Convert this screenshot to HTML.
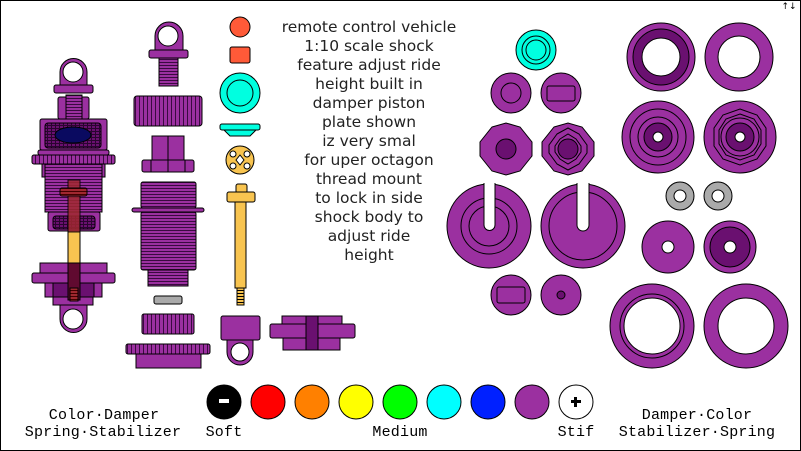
<!DOCTYPE html>
<html><head><meta charset="utf-8"><style>
html,body{margin:0;padding:0;background:#fff}
svg{display:block}
.t{font-family:"DejaVu Sans","Liberation Sans",sans-serif;font-size:15.5px;fill:#222}
.m{font-family:"Liberation Mono","DejaVu Sans Mono",monospace;font-size:15px;letter-spacing:0.2px;fill:#000}
</style></head><body>
<svg width="801" height="451" viewBox="0 0 801 451" xmlns="http://www.w3.org/2000/svg">
<defs>
<pattern id="h" width="4" height="3" patternUnits="userSpaceOnUse"><rect width="4" height="3" fill="#9b30a0"/><rect y="2" width="4" height="1" fill="#3a0a40"/></pattern>
<pattern id="v" width="4" height="4" patternUnits="userSpaceOnUse"><rect width="4" height="4" fill="#9b30a0"/><rect x="3" width="1" height="4" fill="#3a0a40"/></pattern>
<pattern id="hv" width="4" height="3" patternUnits="userSpaceOnUse"><rect width="4" height="3" fill="#6a1070"/><rect y="2" width="4" height="1" fill="#2a0530"/><rect x="3" width="1" height="3" fill="#2a0530"/></pattern>
<pattern id="hy" width="4" height="3" patternUnits="userSpaceOnUse"><rect width="4" height="3" fill="#f8c450"/><rect y="2" width="4" height="1" fill="#000"/></pattern>
<pattern id="hr" width="4" height="3" patternUnits="userSpaceOnUse"><rect width="4" height="3" fill="#a02830"/><rect y="2" width="4" height="1" fill="#400"/></pattern>
</defs>
<rect x="0.5" y="0.5" width="800" height="450" fill="#fff" stroke="#000"/>
<text x="789" y="9" font-size="9" font-family="DejaVu Sans" text-anchor="middle">↑↓</text>
<g stroke="#000" stroke-width="1">
<path d="M60,85 V72 A13,13 0 0 1 87,72 V85 Z" fill="#9b30a0"/>
<circle cx="73" cy="72" r="10" fill="#fff"/>
<rect x="54" y="85" width="39" height="8" rx="2" fill="#9b30a0"/>
<rect x="58" y="97" width="31" height="22" rx="2" fill="#9b30a0"/>
<rect x="66" y="95" width="16" height="24" fill="url(#h)"/>
<rect x="40" y="119" width="67" height="31" rx="2" fill="#9b30a0"/>
<rect x="45" y="123" width="56" height="25" rx="3" fill="url(#hv)"/>
<ellipse cx="73" cy="135" rx="18" ry="8" fill="#0a0a60"/>
<rect x="38" y="150" width="71" height="5" rx="2" fill="#9b30a0"/>
<rect x="32" y="155" width="83" height="9" rx="2" fill="url(#v)"/>
<rect x="42" y="164" width="63" height="13" fill="#9b30a0"/>
<rect x="45" y="164" width="57" height="48" fill="url(#h)"/>
<rect x="48" y="212" width="52" height="19" rx="2" fill="#9b30a0"/>
<rect x="53" y="216" width="42" height="13" rx="3" fill="url(#hv)"/>
<rect x="68" y="231" width="12" height="34" fill="#f8c450"/>
<rect x="40" y="263" width="67" height="10" fill="#9b30a0"/>
<rect x="32" y="273" width="83" height="10" rx="2" fill="#9b30a0"/>
<rect x="45" y="283" width="57" height="14" fill="#9b30a0"/>
<rect x="53" y="283" width="41" height="14" fill="#6a1070"/>
<rect x="53" y="297" width="40" height="8" fill="#9b30a0"/>
<path d="M60,305 H87 V319 A13,13 0 0 1 60,319 Z" fill="#9b30a0"/>
<circle cx="73" cy="319" r="10" fill="#fff"/>
<rect x="68" y="180" width="12" height="52" fill="#a02830" opacity="0.85"/>
<rect x="60" y="188" width="27" height="8" rx="2" fill="url(#hr)"/>
<rect x="68" y="263" width="12" height="37" fill="#600a30"/>
<rect x="70" y="288" width="8" height="13" fill="url(#hr)"/>
<path d="M155,50 V36 A13,13 0 0 1 183,36 V50 Z" fill="#9b30a0"/>
<circle cx="168" cy="36" r="10" fill="#fff"/>
<rect x="149" y="50" width="39" height="8" rx="2" fill="#9b30a0"/>
<rect x="159" y="58" width="19" height="28" fill="url(#h)"/>
<rect x="134" y="96" width="68" height="30" rx="3" fill="url(#v)"/>
<rect x="152" y="136" width="32" height="24" fill="#9b30a0"/>
<line x1="168" y1="136" x2="168" y2="160"/>
<rect x="142" y="160" width="52" height="12" rx="2" fill="#9b30a0"/>
<line x1="151" y1="160" x2="151" y2="172"/><line x1="168" y1="160" x2="168" y2="172"/><line x1="185" y1="160" x2="185" y2="172"/>
<rect x="141" y="182" width="55" height="26" rx="2" fill="url(#h)"/>
<rect x="132" y="208" width="72" height="4" rx="2" fill="#9b30a0"/>
<rect x="141" y="212" width="55" height="58" rx="2" fill="url(#h)"/>
<rect x="148" y="270" width="40" height="16" fill="url(#h)"/>
<rect x="154" y="296" width="28" height="8" rx="2" fill="#aaa"/>
<rect x="142" y="314" width="52" height="20" rx="2" fill="url(#v)"/>
<rect x="126" y="344" width="84" height="10" rx="2" fill="url(#v)"/>
<rect x="136" y="354" width="65" height="14" fill="#9b30a0"/>
<circle cx="240" cy="27" r="10" fill="#ff5a38"/>
<rect x="230" y="47" width="20" height="16" rx="2" fill="#ff5a38"/>
<circle cx="240" cy="93" r="20" fill="#00ffe0"/>
<circle cx="240" cy="93" r="13" fill="#00ffe0"/>
<rect x="220" y="124" width="40" height="6" rx="2" fill="#00ffe0"/>
<path d="M224,130 H256 L250,136 H230 Z" fill="#00ffe0"/>
<circle cx="240" cy="160" r="14" fill="#f8c450"/>
<circle cx="233" cy="154" r="3" fill="#fff"/><circle cx="247" cy="154" r="3" fill="#fff"/>
<circle cx="233" cy="166" r="3" fill="#fff"/><circle cx="247" cy="166" r="3" fill="#fff"/>
<path d="M240,155 L244,160 L240,165 L236,160 Z" fill="#fff"/>
<rect x="236" y="184" width="11" height="9" rx="2" fill="#f8c450"/>
<rect x="227" y="192" width="28" height="10" rx="2" fill="#f8c450"/>
<rect x="235" y="202" width="11" height="86" fill="#f8c450"/>
<rect x="237" y="288" width="7" height="17" fill="url(#hy)"/>
<rect x="221" y="316" width="39" height="24" rx="2" fill="#9b30a0"/>
<path d="M227,340 H253 V352 A13,13 0 0 1 227,352 Z" fill="#9b30a0"/>
<circle cx="240" cy="352" r="9" fill="#fff"/>
<rect x="282" y="316" width="60" height="8" fill="#9b30a0"/>
<rect x="270" y="324" width="85" height="14" rx="2" fill="#9b30a0"/>
<rect x="283" y="338" width="57" height="12" fill="#9b30a0"/>
<rect x="306" y="316" width="12" height="34" fill="#6a1070"/>
<circle cx="536" cy="50" r="20" fill="#00ffe0"/><circle cx="536" cy="50" r="14" fill="#00ffe0"/><circle cx="536" cy="50" r="10" fill="#00ffe0"/>
<circle cx="511" cy="93" r="20" fill="#9b30a0"/><circle cx="511" cy="93" r="10" fill="#9b30a0"/>
<circle cx="561" cy="93" r="20" fill="#9b30a0"/><rect x="547" y="86" width="28" height="15" rx="2" fill="#9b30a0"/>
<polygon points="492,127 506,123 520,127 532,142 532,156 520,171 506,175 492,171 480,156 480,142" fill="#9b30a0"/>
<circle cx="506" cy="149" r="10" fill="#6a1070"/>
<polygon points="554,127 568,123 582,127 594,142 594,156 582,171 568,175 554,171 542,156 542,142" fill="#9b30a0"/>
<polygon points="557,134 568,128 579,134 587,145 587,153 579,164 568,170 557,164 549,153 549,145" fill="#9b30a0"/>
<polygon points="560,139 568,134 576,139 581,146 581,152 576,159 568,164 560,159 555,152 555,146" fill="#9b30a0"/>
<circle cx="568" cy="149" r="10" fill="#6a1070"/>
<circle cx="489" cy="226" r="42" fill="#9b30a0"/><circle cx="489" cy="226" r="28" fill="#9b30a0"/><circle cx="489" cy="226" r="20" fill="#9b30a0"/>
<path d="M484,183 V225 A5.5,5.5 0 0 0 495,225 V183" fill="#fff"/>
<circle cx="583" cy="226" r="42" fill="#9b30a0"/><circle cx="583" cy="226" r="34" fill="#9b30a0"/>
<path d="M577,183 V225 A5.5,5.5 0 0 0 589,225 V183" fill="#fff"/>
<circle cx="511" cy="295" r="20" fill="#9b30a0"/><rect x="497" y="287" width="28" height="16" rx="2" fill="#9b30a0"/>
<circle cx="561" cy="295" r="20" fill="#9b30a0"/><circle cx="561" cy="295" r="4" fill="#6a1070"/>
<circle cx="661" cy="57" r="34" fill="#9b30a0"/><circle cx="661" cy="57" r="28" fill="#6a1070"/><circle cx="661" cy="57" r="19" fill="#fff"/>
<circle cx="739" cy="57" r="34" fill="#9b30a0"/><circle cx="739" cy="57" r="21" fill="#fff"/>
<circle cx="658" cy="137" r="36" fill="#9b30a0"/><circle cx="658" cy="137" r="28" fill="#9b30a0"/><circle cx="658" cy="137" r="20" fill="#9b30a0"/><circle cx="658" cy="137" r="14" fill="#6a1070"/><circle cx="658" cy="137" r="5" fill="#fff"/>
<circle cx="740" cy="137" r="36" fill="#9b30a0"/>
<polygon points="740,109 757,115 766,128 766,146 757,159 740,165 723,159 714,146 714,128 723,115" fill="#9b30a0"/>
<polygon points="740,114 754,119 761,130 761,144 754,155 740,160 726,155 719,144 719,130 726,119" fill="#9b30a0"/>
<circle cx="740" cy="137" r="19" fill="#9b30a0"/><circle cx="740" cy="137" r="14" fill="#6a1070"/><circle cx="740" cy="137" r="5" fill="#fff"/>
<circle cx="680" cy="196" r="14" fill="#aaa"/><circle cx="680" cy="196" r="6" fill="#fff"/>
<circle cx="718" cy="196" r="14" fill="#aaa"/><circle cx="718" cy="196" r="6" fill="#fff"/>
<circle cx="668" cy="247" r="26" fill="#9b30a0"/><circle cx="668" cy="247" r="6" fill="#fff"/>
<circle cx="730" cy="247" r="26" fill="#9b30a0"/><circle cx="730" cy="247" r="20" fill="#6a1070"/><circle cx="730" cy="247" r="6" fill="#fff"/>
<circle cx="652" cy="326" r="42" fill="#9b30a0"/><circle cx="652" cy="326" r="32" fill="#9b30a0"/><circle cx="652" cy="326" r="28" fill="#fff"/>
<circle cx="746" cy="326" r="42" fill="#9b30a0"/><circle cx="746" cy="326" r="28" fill="#fff"/>
<ellipse cx="224" cy="402" rx="17" ry="17" fill="#000"/>
<ellipse cx="268" cy="402" rx="17" ry="17" fill="#f00"/>
<ellipse cx="312" cy="402" rx="17" ry="17" fill="#ff8000"/>
<ellipse cx="356" cy="402" rx="17" ry="17" fill="#ff0"/>
<ellipse cx="400" cy="402" rx="17" ry="17" fill="#0f0"/>
<ellipse cx="444" cy="402" rx="17" ry="17" fill="#0ff"/>
<ellipse cx="488" cy="402" rx="17" ry="17" fill="#0020ff"/>
<ellipse cx="532" cy="402" rx="17" ry="17" fill="#9b30a0"/>
<ellipse cx="576" cy="402" rx="17" ry="17" fill="#fff"/>
</g>
<rect x="219" y="399" width="10" height="4" fill="#fff"/>
<rect x="571" y="400" width="10" height="3" fill="#000"/><rect x="574" y="397" width="3" height="10" fill="#000"/>
<g class="t" text-anchor="middle">
<text x="369" y="32">remote control vehicle</text>
<text x="369" y="51">1:10 scale shock</text>
<text x="369" y="70">feature adjust ride</text>
<text x="369" y="89">height built in</text>
<text x="369" y="108">damper piston</text>
<text x="369" y="127">plate shown</text>
<text x="369" y="146">iz very smal</text>
<text x="369" y="165">for uper octagon</text>
<text x="369" y="184">thread mount</text>
<text x="369" y="203">to lock in side</text>
<text x="369" y="222">shock body to</text>
<text x="369" y="241">adjust ride</text>
<text x="369" y="260">height</text>
</g>
<g class="m" text-anchor="middle">
<text x="104" y="419">Color·Damper</text>
<text x="103" y="436">Spring·Stabilizer</text>
<text x="224" y="436">Soft</text>
<text x="400" y="436">Medium</text>
<text x="576" y="436">Stif</text>
<text x="697" y="419">Damper·Color</text>
<text x="697" y="436">Stabilizer·Spring</text>
</g>
</svg>
</body></html>
